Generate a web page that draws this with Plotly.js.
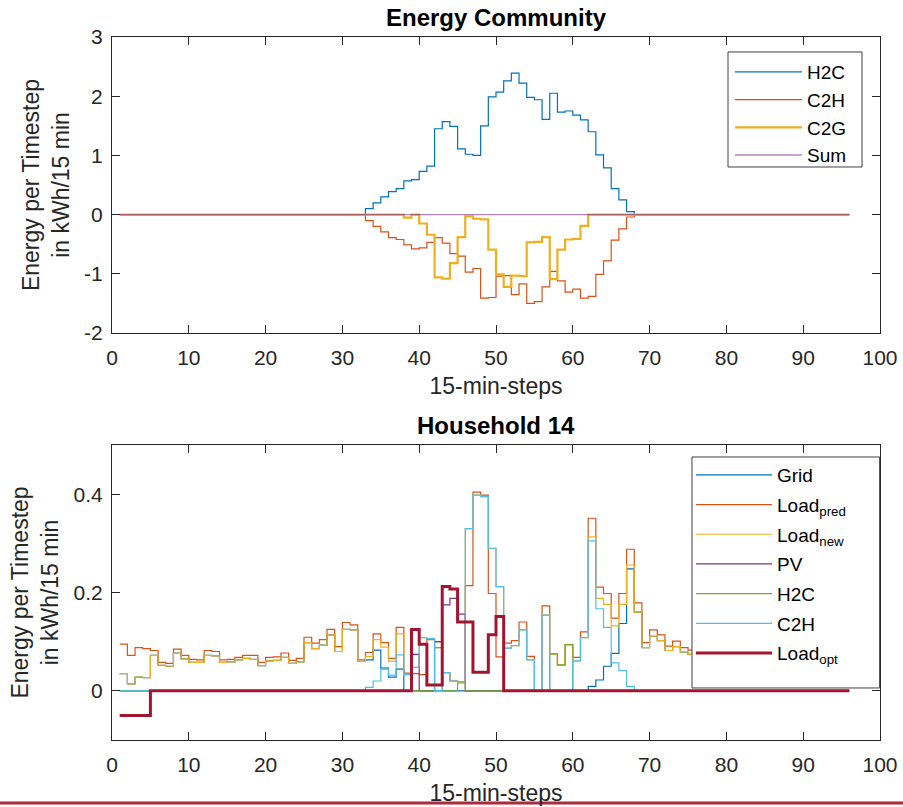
<!DOCTYPE html>
<html>
<head>
<meta charset="utf-8">
<script src="https://cdn.plot.ly/plotly-3.0.1.min.js"></script>
<style>html,body{margin:0;padding:0;background:#fff;}#chart{width:903px;height:807px;}</style>
</head>
<body>
<div id="chart"></div>
<script>
// ---------- DATA ----------
const steps = Array.from({length: 96}, (_, i) => i + 1);

// Energy Community
const ecH2C = [
 0,0,0,0,0,0,0,0,0,0,0,0,0,0,0,0,
 0,0,0,0,0,0,0,0,0,0,0,0,0,0,0,0,
 0.10,0.20,0.30,0.39,0.44,0.57,0.59,0.73,0.82,1.45,1.57,1.49,1.11,1.02,1.00,1.50,
 1.99,2.07,2.26,2.39,2.22,1.98,1.94,1.61,2.05,1.73,1.75,1.68,1.60,1.40,1.01,0.79,
 0.44,0.25,0.05,0,0,0,0,0,0,0,0,0,0,0,0,0,
 0,0,0,0,0,0,0,0,0,0,0,0,0,0,0,0];
const ecC2H = [
 0,0,0,0,0,0,0,0,0,0,0,0,0,0,0,0,
 0,0,0,0,0,0,0,0,0,0,0,0,0,0,0,0,
 -0.10,-0.20,-0.29,-0.39,-0.42,-0.51,-0.58,-0.56,-0.47,-0.39,-0.48,-0.66,-0.70,-0.97,-0.91,-1.41,
 -1.40,-1.04,-1.03,-1.35,-1.17,-1.50,-1.47,-1.22,-0.96,-1.12,-1.31,-1.26,-1.41,-1.38,-1.01,-0.78,
 -0.43,-0.24,-0.04,0,0,0,0,0,0,0,0,0,0,0,0,0,
 0,0,0,0,0,0,0,0,0,0,0,0,0,0,0,0];
const ecC2G = [
 0,0,0,0,0,0,0,0,0,0,0,0,0,0,0,0,
 0,0,0,0,0,0,0,0,0,0,0,0,0,0,0,0,
 0,0,0,0,0,-0.05,0,-0.15,-0.34,-1.06,-1.08,-0.82,-0.38,-0.03,-0.07,-0.08,
 -0.59,-1.01,-1.22,-1.03,-1.04,-0.47,-0.46,-0.38,-1.09,-0.59,-0.42,-0.41,-0.19,0,0,0,
 0,0,0,0,0,0,0,0,0,0,0,0,0,0,0,0,
 0,0,0,0,0,0,0,0,0,0,0,0,0,0,0,0];
const ecSum = [
 0,0,0,0,0,0,0,0,0,0,0,0,0,0,0,0,
 0,0,0,0,0,0,0,0,0,0,0,0,0,0,0,0,
 0,0,0,0,0,0,0,0,0,0,0,0,0,0,0,0,
 0,0,0,0,0,0,0,0,0,0,0,0,0,0,0,0,
 0,0,0,0,0,0,0,0,0,0,0,0,0,0,0,0,
 0,0,0,0,0,0,0,0,0,0,0,0,0,0,0,0];

// Household 14
const hhGrid = [
 0.035,0.014,0.028,0.027,0.072,0.052,0.050,0.077,0.065,0.058,0.058,0.072,0.071,0.058,0.059,0.063,
 0.066,0.064,0.051,0.061,0.062,0.068,0.056,0.059,0.098,0.086,0.093,0.114,0.080,0.125,0.124,0.060,
 0.063,0.083,0.046,0.028,0.044,0,0,0,0,0,0,0,0,0,0,0,
 0,0,0,0,0,0,0,0,0,0,0,0,0,0.009,0.022,0.050,
 0.076,0.137,0.248,0.160,0.088,0.111,0.102,0.082,0.090,0.079,0.074,0.071,0.069,0.066,0.073,0.070,
 0.076,0.079,0.077,0.081,0.085,0.082,0.088,0.084,0.081,0.086,0.082,0.079,0.081,0.078,0.084,0.082];
const hhLoadPred = [
 0.095,0.072,0.088,0.086,0.082,0.058,0.056,0.085,0.072,0.064,0.063,0.082,0.080,0.063,0.064,0.068,
 0.072,0.072,0.058,0.068,0.069,0.077,0.062,0.066,0.109,0.097,0.104,0.125,0.090,0.139,0.134,0.063,
 0.078,0.116,0.098,0.066,0.129,0.036,0.035,0.033,0.104,0.100,0.037,0.020,0.019,0.214,0.404,0.398,
 0.198,0.069,0.097,0.102,0.140,0.070,0,0.173,0.075,0.053,0.094,0.068,0.120,0.351,0.211,0.198,
 0.148,0.198,0.288,0.179,0.098,0.124,0.114,0.091,0.101,0.088,0.083,0.080,0.078,0.075,0.082,0.079,
 0.085,0.088,0.086,0.090,0.095,0.092,0.098,0.094,0.090,0.096,0.092,0.088,0.091,0.087,0.094,0.092];
const hhLoadNew = [
 0.035,0.014,0.028,0.027,0.072,0.052,0.050,0.077,0.065,0.058,0.058,0.072,0.071,0.058,0.059,0.063,
 0.066,0.064,0.051,0.061,0.062,0.068,0.056,0.059,0.098,0.086,0.093,0.114,0.080,0.125,0.124,0.060,
 0.070,0.104,0.089,0.060,0.116,0.033,0.048,0.108,0.106,0.088,0.037,0.020,0.019,0.330,0.398,0.395,
 0.290,0.212,0.087,0.092,0.124,0.063,0,0.154,0.075,0.053,0.094,0.061,0.108,0.313,0.188,0.176,
 0.132,0.176,0.256,0.160,0.088,0.111,0.102,0.082,0.090,0.079,0.074,0.071,0.069,0.066,0.073,0.070,
 0.076,0.079,0.077,0.081,0.085,0.082,0.088,0.084,0.081,0.086,0.082,0.079,0.081,0.078,0.084,0.082];
const hhPV = [
 0,0,0,0,0,0,0,0,0,0,0,0,0,0,0,0,
 0,0,0,0,0,0,0,0,0,0,0,0,0,0,0,0,
 0,0,0,0,0,0,0.074,0,0,0.100,0.175,0.188,0.156,0,0,0,
 0,0,0,0,0,0,0,0,0,0,0,0,0,0,0,0,
 0,0,0,0,0,0,0,0,0,0,0,0,0,0,0,0,
 0,0,0,0,0,0,0,0,0,0,0,0,0,0,0,0];
const hhH2C = [
 0,0,0,0,0,0,0,0,0,0,0,0,0,0,0,0,
 0,0,0,0,0,0,0,0,0,0,0,0,0,0,0,0,
 0,0,0,0,0,0,0,0,0,0.088,0,0,0.016,0,0,0,
 0,0,0,0,0,0,0,0,0.075,0.053,0.094,0,0,0,0,0,
 0,0,0,0,0,0,0,0,0,0,0,0,0,0,0,0,
 0,0,0,0,0,0,0,0,0,0,0,0,0,0,0,0];
const hhC2H = [
 0,0,0,0,0,0,0,0,0,0,0,0,0,0,0,0,
 0,0,0,0,0,0,0,0,0,0,0,0,0,0,0,0,
 0.007,0.020,0.044,0.032,0.073,0.033,0.048,0.108,0.106,0,0.037,0.020,0.019,0.330,0.398,0.395,
 0.290,0.212,0.087,0.092,0.124,0.063,0,0.154,0,0,0,0.061,0.108,0.305,0.167,0.129,
 0.057,0.041,0.009,0,0,0,0,0,0,0,0,0,0,0,0,0,
 0,0,0,0,0,0,0,0,0,0,0,0,0,0,0,0];
const hhLoadOpt = [
 -0.05,-0.05,-0.05,-0.05,0,0,0,0,0,0,0,0,0,0,0,0,
 0,0,0,0,0,0,0,0,0,0,0,0,0,0,0,0,
 0,0,0,0,0,0,0.125,0.095,0.012,0.012,0.212,0.207,0.140,0.140,0.038,0.038,
 0.114,0.151,0,0,0,0,0,0,0,0,0,0,0,0,0,0,
 0,0,0,0,0,0,0,0,0,0,0,0,0,0,0,0,
 0,0,0,0,0,0,0,0,0,0,0,0,0,0,0,0];

const xTicks = [0,10,20,30,40,50,60,70,80,90,100];
const yTicksTop = [-2,-1,0,1,2,3];
const yTicksBottom = [0,0.2,0.4];

// ---------- TRACES ----------
function st(name, y, color, width, xa, ya, leg) {
  return {type:'scatter', mode:'lines', name:name, x:steps, y:y,
    line:{shape:'hv', color:color, width:width},
    xaxis:xa, yaxis:ya, legend:leg, legendgroup:leg + name, hoverinfo:'skip'};
}
const traces = [
  st('H2C', ecH2C, '#0072BD', 1.2, 'x', 'y', 'legend'),
  st('C2H', ecC2H, '#D95319', 1.2, 'x', 'y', 'legend'),
  st('C2G', ecC2G, '#EDB120', 2.2, 'x', 'y', 'legend'),
  st('Sum', ecSum, 'rgba(126,47,142,0.6)', 1.4, 'x', 'y', 'legend'),
  st('Grid', hhGrid, '#0072BD', 1.2, 'x2', 'y2', 'legend2'),
  st('Load<sub>pred</sub>', hhLoadPred, '#D95319', 1.2, 'x2', 'y2', 'legend2'),
  st('Load<sub>new</sub>', hhLoadNew, '#EDB120', 1.2, 'x2', 'y2', 'legend2'),
  st('PV', hhPV, '#7E2F8E', 1.2, 'x2', 'y2', 'legend2'),
  st('H2C', hhH2C, '#77AC30', 1.2, 'x2', 'y2', 'legend2'),
  st('C2H', hhC2H, '#4DBEEE', 1.2, 'x2', 'y2', 'legend2'),
  st('Load<sub>opt</sub>', hhLoadOpt, '#A2142F', 3, 'x2', 'y2', 'legend2')
];

// ---------- LAYOUT ----------
const FONT = 'Liberation Sans, Arial, Helvetica, sans-serif';
const AX = '#262626';
function xax(anchor) {
  return {anchor:anchor, domain:[0,1], range:[0,100], tickvals:xTicks, ticktext:xTicks.map(String),
    ticks:'inside', ticklen:8, tickcolor:AX, mirror:'ticks', showline:true, linecolor:AX, linewidth:1,
    showgrid:false, zeroline:false, tickfont:{size:21, color:AX}, ticklabelstandoff:6,
    title:{text:'15-min-steps', font:{size:23, color:AX}, standoff:9}};
}
function yax(anchor, domain, range, tv) {
  return {anchor:anchor, domain:domain, range:range, tickvals:tv, ticktext:tv.map(String),
    ticks:'inside', ticklen:8, tickcolor:AX, mirror:'ticks', showline:true, linecolor:AX, linewidth:1,
    showgrid:false, zeroline:false, tickfont:{size:21, color:AX}, ticklabelstandoff:4,
    title:{text:'Energy per Timestep<br>in kWh/15 min', font:{size:23, color:AX}, standoff:8}};
}
const legBase = {bgcolor:'rgba(0,0,0,0)', borderwidth:0, font:{size:19, color:'#000'},
  xanchor:'left', yanchor:'top', traceorder:'grouped'};

// legend frames (paper coordinates)
const frameTop = {x0:0.8021, x1:0.9766, y0:0.8151, y1:0.9787};
const frameBottom = {x0:0.7552, x1:0.9995, y0:0.0740, y1:0.4026};
function frame(f) {
  return {type:'rect', xref:'paper', yref:'paper', layer:'above', x0:f.x0, x1:f.x1, y0:f.y0, y1:f.y1,
    fillcolor:'#ffffff', line:{color:'#404040', width:1}};
}

const layout = {
  width:903, height:807,
  margin:{l:112, r:23, t:37, b:67, pad:0},
  paper_bgcolor:'#ffffff', plot_bgcolor:'#ffffff',
  font:{family:FONT, size:21, color:AX},
  showlegend:true,
  xaxis: xax('y'),
  yaxis: yax('x', [0.5789,1], [-2,3], yTicksTop),
  xaxis2: xax('y2'),
  yaxis2: yax('x2', [0,0.4196], [-0.1,0.5], yTicksBottom),
  legend: Object.assign({}, legBase, {x:0.8047, y:0.9772, itemwidth:67, tracegroupgap:0}),
  legend2: Object.assign({}, legBase, {x:0.7539, y:0.404, itemwidth:76, tracegroupgap:2}),
  annotations:[
    {text:'<b>Energy Community</b>', xref:'paper', yref:'paper', x:0.5, y:1.0284, xanchor:'center', yanchor:'middle',
     showarrow:false, font:{size:24, color:'#000'}},
    {text:'<b>Household 14</b>', xref:'paper', yref:'paper', x:0.5, y:0.448, xanchor:'center', yanchor:'middle',
     showarrow:false, font:{size:24, color:'#000'}}
  ],
  shapes:[
    frame(frameTop), frame(frameBottom),
    {type:'line', xref:'paper', yref:'paper', x0:-0.1458, x1:1.03, y0:-0.0896, y1:-0.0896,
     line:{color:'#b0283c', width:3}}
  ]
};

Plotly.newPlot('chart', traces, layout, {staticPlot:true, displayModeBar:false});
</script>
</body>
</html>
